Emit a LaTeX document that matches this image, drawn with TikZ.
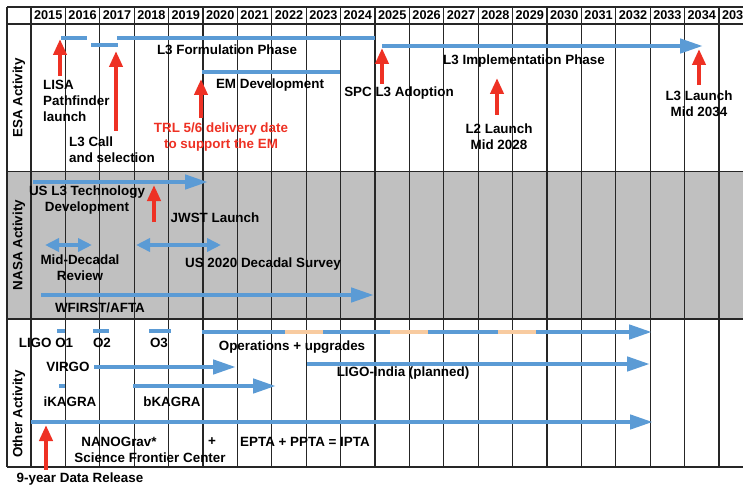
\documentclass[tikz,border=0pt]{standalone}
\usepackage{fontspec}
\setmainfont{Liberation Sans}
\usetikzlibrary{arrows.meta}
\definecolor{barblue}{HTML}{5B9BD5}
\definecolor{markred}{HTML}{EE3124}
\definecolor{opspeach}{HTML}{F8CBA0}
\definecolor{nasagray}{HTML}{C0C0C0}

\begin{document}
\begin{tikzpicture}[x=1pt,y=-1pt,
    txt/.style={font=\bfseries\fontsize{13.4}{16}\selectfont,inner sep=0pt,align=center},
    yr/.style={font=\bfseries\fontsize{12.7}{14}\selectfont,inner sep=0pt},
    gridline/.style={draw=black!85,line width=1.2pt},
    tbar/.style={draw=barblue,line width=4.5pt},
    tarrow/.style={tbar,-{Triangle[length=23pt,width=14pt]}},
    twoway/.style={tbar,{Triangle[length=14pt,width=13pt]}-{Triangle[length=14pt,width=13pt]}},
    flag/.style={draw=markred,line width=4pt,-{Triangle[length=16pt,width=13pt]}}]
  \useasboundingbox (0,0) rectangle (743,489);
  \def\W{34.4}
  % table
  \fill[nasagray] (7,171.5) rectangle (743,319);
  \foreach \y in {7,24,171.5,319,467}
    \draw[gridline] (7,\y) -- (743,\y);
  \draw[gridline] (7,7) -- (7,467);
  \foreach \k in {0,...,21}
    \draw[gridline] ({31+\W*\k},7) -- ({31+\W*\k},467);
  \foreach \k in {0,...,20}
    \node[yr] (y\k) at ({31+\W*(\k+0.5)},15.5) {\the\numexpr2015+\k\relax};
  \node[txt,rotate=90] (esa) at (19,98) {ESA Activity};
  \node[txt,rotate=90] (nasa) at (19,245) {NASA Activity};
  \node[txt,rotate=90] (other) at (19,414) {Other Activity};

  % bars
  \foreach \a/\b/\y in {61/87/38, 91/118/45, 117/375/38, 202/340/72,
      57/65/331, 93/109/331, 149/171/331, 59/65/386}
    \draw[tbar] (\a,\y) -- (\b,\y);
  \foreach \a/\b/\y in {382/703/46, 33/208/182, 41/374/295, 202/652/332,
      94/236/367, 307/650/364, 133/276/386, 31/653/422}
    \draw[tarrow] (\a,\y) -- (\b,\y);
  \foreach \a/\b in {285/323, 390/428, 498/536}
    \draw[opspeach,line width=4.5pt] (\a,332) -- (\b,332);
  \draw[twoway] (45,245) -- (92,245);
  \draw[twoway] (136,245) -- (221,245);

  % milestones
  \foreach \x/\a/\b in {60/76/39, 116/131/51, 201/118/79, 382/84/48,
      497/115/78, 699/85/49, 154/222/185, 46/470/425}
    \draw[flag] (\x,\a) -- (\x,\b);

  % ESA
  \node[txt] (form) at (227,50) {L3 Formulation Phase};
  \node[txt] (em) at (270,85) {EM Development};
  \node[txt,anchor=west,align=left] (lisa) at (43,101) {LISA\\Pathfinder\\launch};
  \node[txt,anchor=west,align=left] (call) at (69,150) {L3 Call\\and selection};
  \node[txt,text=markred] (trl) at (221,137.5) {TRL 5/6 delivery date\\to support the EM};
  \node[txt] (spc) at (399,93) {SPC L3 Adoption};
  \node[txt] (impl) at (524,61) {L3 Implementation Phase};
  \node[txt] (ltwo) at (499,136.5) {L2 Launch\\Mid 2028};
  \node[txt] (lthree) at (699,104) {L3 Launch\\Mid 2034};
  % NASA
  \node[txt] (tech) at (87,200) {US L3 Technology\\Development};
  \node[txt] (jwst) at (215,218) {JWST Launch};
  \node[txt] (mid) at (80,268) {Mid-Decadal\\Review};
  \node[txt] (survey) at (263,264) {US 2020 Decadal Survey};
  \node[txt] (wfirst) at (100,308) {WFIRST/AFTA};
  % other
  \node[txt] (oone) at (46,343) {LIGO O1};
  \node[txt] (otwo) at (102,343) {O2};
  \node[txt] (othree) at (159,343) {O3};
  \node[txt] (ops) at (292,347) {Operations + upgrades};
  \node[txt] (virgo) at (68,367) {VIRGO};
  \node[txt] (india) at (403,373) {LIGO-India (planned)};
  \node[txt] (ikagra) at (70,402) {iKAGRA};
  \node[txt] (bkagra) at (172,402) {bKAGRA};
  \node[txt] (nano) at (119,442) {NANOGrav*};
  \node[txt] (sfc) at (150,458) {Science Frontier Center};
  \node[txt] (plus) at (212,442) {+};
  \node[txt] (ipta) at (305,442) {EPTA + PPTA = IPTA};
  \node[txt] (nine) at (80,479) {9-year Data Release};
\end{tikzpicture}
\end{document}
